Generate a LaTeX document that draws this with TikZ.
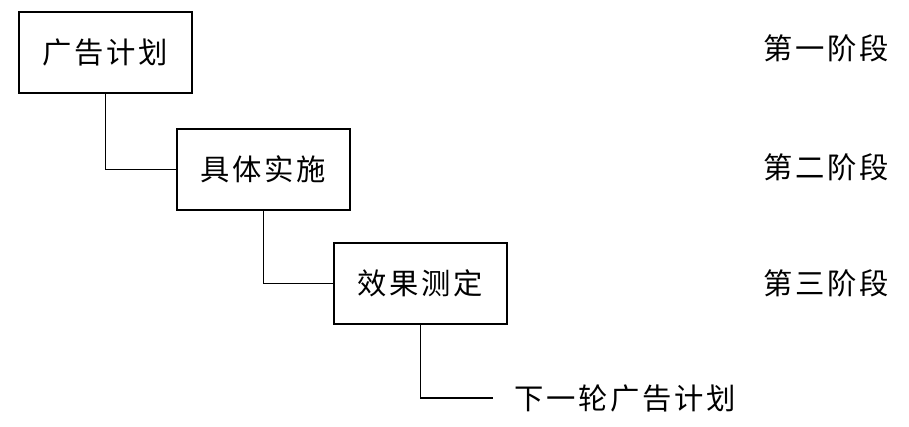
\documentclass[tikz,border=0pt]{standalone}
\usepackage{fontspec}
\newfontfamily\cjk[LetterSpace=9]{Noto Sans CJK SC}
\begin{document}
\begin{tikzpicture}[x=0.75pt,y=-0.75pt,
  stagebox/.style={draw,line width=1.25pt,minimum width=129.75pt,minimum height=60.75pt,inner sep=0pt,font=\cjk\fontsize{22}{26}\selectfont},
  lbl/.style={inner sep=0pt,font=\cjk\fontsize{22}{26}\selectfont},
  conn/.style={line width=1.25pt}]
\useasboundingbox (0,0) rectangle (909,426);
\node[stagebox] (b1) at (105.5,52.5) {广告计划};
\node[stagebox] (b2) at (263.5,169.5) {具体实施};
\node[stagebox] (b3) at (420.5,283.5) {效果测定};
\coordinate (e) at (493,398);
\node[lbl,anchor=west] (nx) at (514,398) {下一轮广告计划};
\node[lbl] (s1) at (826,48) {第一阶段};
\node[lbl] (s2) at (826,167) {第二阶段};
\node[lbl] (s3) at (826,283) {第三阶段};
\draw[conn] (b1.south) |- (b2.west);
\draw[conn] (b2.south) |- (b3.west);
\draw[conn] (b3.south) |- (e);
\end{tikzpicture}
\end{document}
